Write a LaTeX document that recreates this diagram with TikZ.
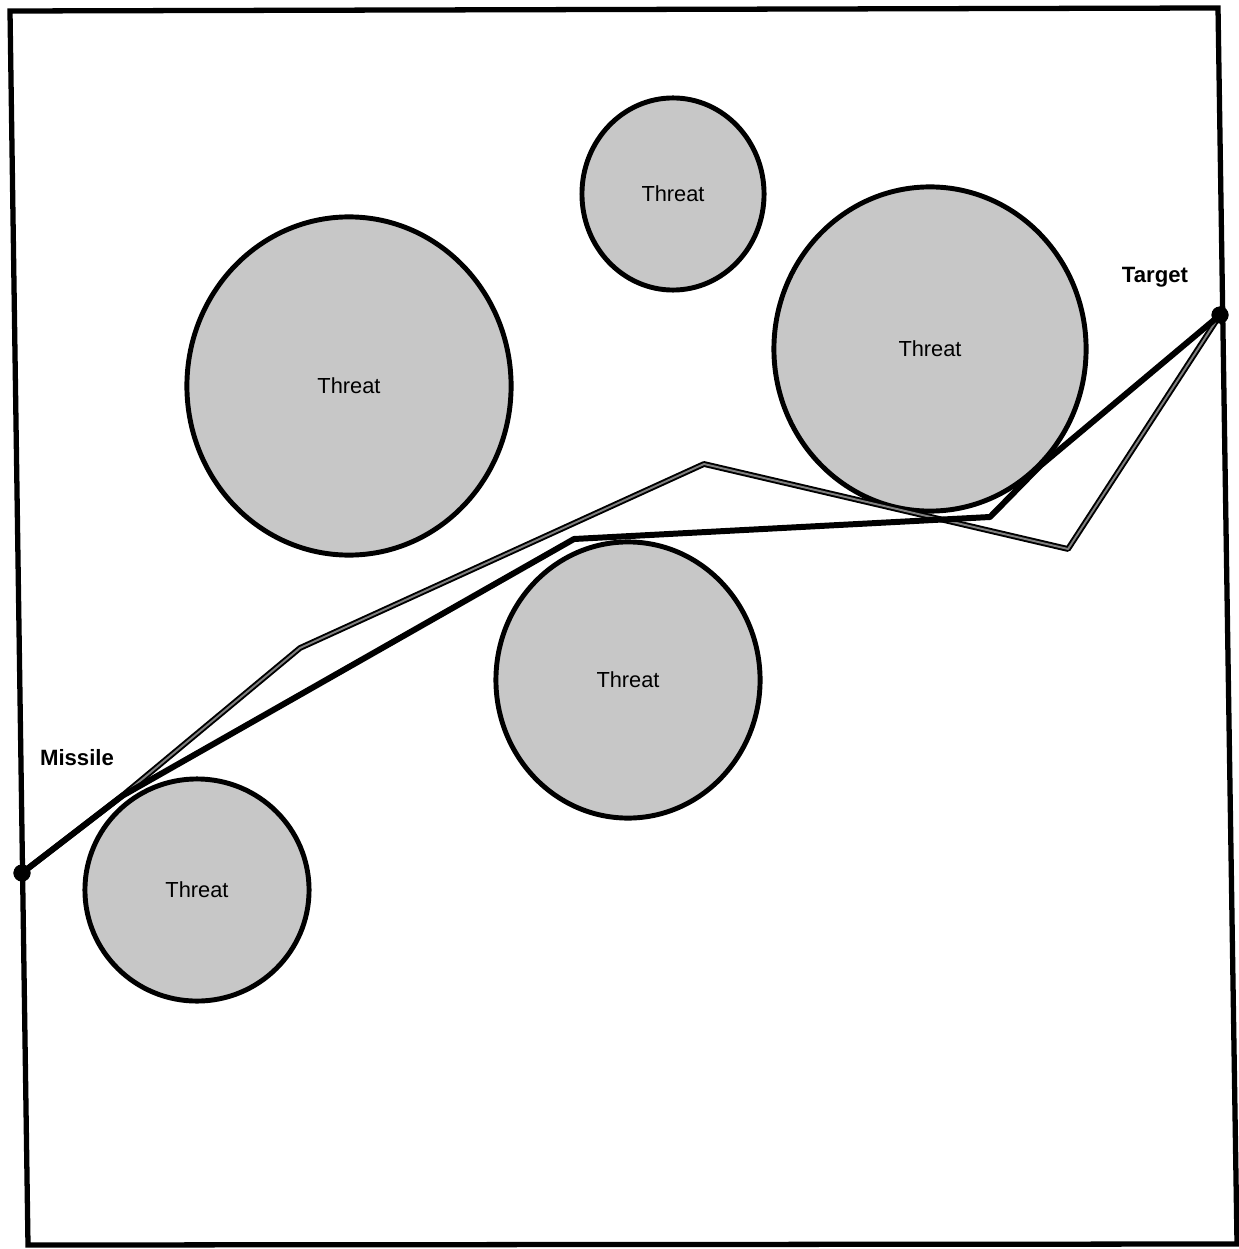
\documentclass[tikz,border=0pt]{standalone}
\usepackage{fontspec}
\setmainfont{Liberation Sans}
\usetikzlibrary{shapes.geometric}

\begin{document}
\begin{tikzpicture}[x=0.01cm,y=-0.01cm,
		threat/.style={ellipse,draw=black,line width=1.4pt,fill=black!22,inner sep=0pt,font=\fontsize{6.2}{7}\selectfont},
		dot/.style={circle,fill=black,inner sep=0pt,minimum size=0.17cm},
		tag/.style={font=\fontsize{6.3}{7}\selectfont\bfseries},
		route/.style={line width=1.7pt,line join=round},
		detour/.style={line width=0.55pt,double=black!50,double distance=0.55pt,line join=round}]
		\useasboundingbox (0,0) rectangle (1238,1249);
		\draw[line width=1.5pt] (10,11) -- (1218,8) -- (1237,1244) -- (28,1245) -- cycle;
		% threats
		\node[threat,minimum width=1.82cm,minimum height=1.92cm] (top) at (673,194) {Threat};
		\node[threat,minimum width=3.24cm,minimum height=3.38cm] (big) at (349,386) {Threat};
		\node[threat,minimum width=3.12cm,minimum height=3.24cm] (right) at (930,349) {Threat};
		\node[threat,minimum width=2.64cm,minimum height=2.76cm] (mid) at (628,680) {Threat};
		\node[threat,minimum width=2.24cm,minimum height=2.22cm] (low) at (197,890) {Threat};
		% ends
		\node[dot] (m) at (22,873) {};
		\node[dot] (t) at (1220,315) {};
		\node[tag] (mlab) at (77,758) {Missile};
		\node[tag] (tlab) at (1155,277) {Target};
		% paths
		\coordinate (k) at (122,796);
		\coordinate (g1) at (300,648);
		\coordinate (g2) at (704,464);
		\coordinate (g3) at (1068,549);
		\coordinate (b1) at (574,539);
		\coordinate (b2) at (990,517);
		\coordinate (b3) at (1040,466);
		\draw[detour] (m.center) -- (k) -- (g1) -- (g2) -- (g3) -- (t.center);
		\draw[route] (m.center) -- (k) -- (b1) -- (b2) -- (b3) -- (t.center);
		\node[dot] at (m) {};
		\node[dot] at (t) {};
	\end{tikzpicture}
\end{document}
